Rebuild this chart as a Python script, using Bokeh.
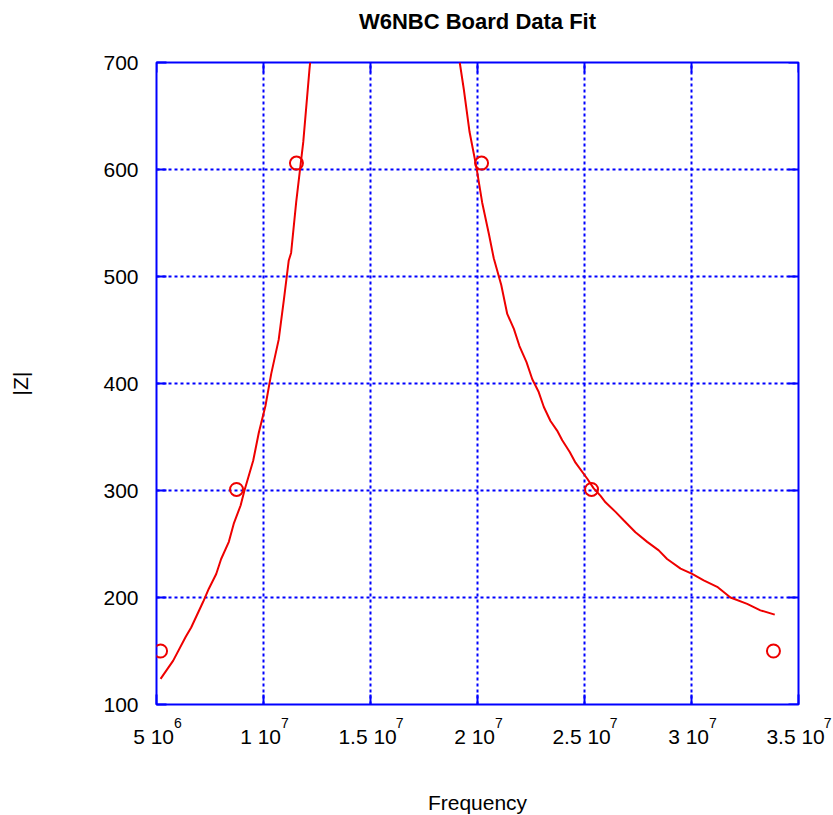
import math
from bokeh.plotting import figure
from bokeh.models import FixedTicker, Range1d, LinearAxis
from bokeh.embed import file_html
from bokeh.resources import INLINE

# measured data points (Frequency in Hz, |Z| in ohms)
data_freq = [5.19e6, 8.74e6, 11.54e6, 20.19e6, 25.33e6, 33.83e6]
data_z = [150, 301, 606, 606, 301, 150]

# fitted curve, low-frequency branch
fit_lo_freq = [5.19e6, 5.78e6, 6.36e6, 6.62e6, 7.18e6, 7.44e6, 7.79e6, 8.02e6, 8.38e6,
               8.61e6, 8.93e6, 9.11e6, 9.52e6, 9.78e6, 10.09e6, 10.36e6, 10.71e6,
               10.95e6, 11.18e6, 11.29e6, 11.53e6, 11.86e6, 12.15e6, 12.18e6]
fit_lo_z = [124, 141, 163, 172, 196, 208, 222, 236, 252, 269, 286, 300, 328, 354,
            379, 409, 441, 478, 515, 522, 570, 626, 694, 700]

# fitted curve, high-frequency branch
fit_hi_freq = [19.17e6, 19.36e6, 19.63e6, 19.95e6, 20.22e6, 20.53e6, 20.76e6, 21.11e6,
               21.39e6, 21.70e6, 21.96e6, 22.29e6, 22.56e6, 22.86e6, 23.10e6, 23.41e6,
               23.72e6, 23.96e6, 24.31e6, 24.58e6, 25.13e6, 25.43e6, 25.75e6, 25.98e6,
               26.45e6, 26.84e6, 27.38e6, 27.93e6, 28.47e6, 28.86e6, 29.49e6, 30.03e6,
               30.57e6, 31.20e6, 31.82e6, 32.60e6, 33.22e6, 33.89e6]
fit_hi_z = [700, 675, 635, 602, 569, 540, 517, 492, 465, 451, 435, 420, 404, 392, 378,
            365, 356, 347, 336, 326, 311, 302, 295, 289, 280, 272, 261, 252, 244, 236,
            227, 222, 216, 210, 200, 194, 188, 184]

x_min, x_max = 5e6, 3.5e7
y_min, y_max = 100, 700
x_ticks = [5000000, 10000000, 15000000, 20000000, 25000000, 30000000, 35000000]
x_tick_mantissa = ["5 10", "1 10", "1.5 10", "2 10", "2.5 10", "3 10", "3.5 10"]
x_tick_exponent = ["6", "7", "7", "7", "7", "7", "7"]
y_ticks = [100, 200, 300, 400, 500, 600, 700]

TITLE = "W6NBC Board Data Fit"
FONT = "Liberation Sans"
BLUE = "#0000FF"
RED = "#EE0000"
TICK_PX = 21
EXP_PX = 14
NBSP = "\u00a0"

p = figure(frame_width=642, frame_height=642, output_backend="svg",
           toolbar_location=None,
           x_range=Range1d(x_min, x_max), y_range=Range1d(y_min, y_max),
           min_border_left=156, min_border_right=35, min_border_top=62,
           min_border_bottom=108)

p.outline_line_color = BLUE
p.outline_line_width = 2
p.outline_line_alpha = 1

for g in (p.xgrid[0], p.ygrid[0]):
    g.grid_line_color = BLUE
    g.grid_line_dash = "3 3"
    g.grid_line_width = 2
    g.grid_line_alpha = 1
p.xgrid[0].ticker = FixedTicker(ticks=x_ticks)
p.ygrid[0].ticker = FixedTicker(ticks=y_ticks)

# default bottom axis (grab before any other x axis is added)
xe = p.below[0]
ya = p.left[0]

# approximate Arial advance widths (em) for lining up mantissa and exponent
ADV = {".": 0.278, " ": 0.278, NBSP: 0.278}
def text_w(s, px):
    return sum(ADV.get(c, 0.556) for c in s) * px

man_labels = {}
exp_labels = {}
for xv, man, ex in zip(x_ticks, x_tick_mantissa, x_tick_exponent):
    wm = text_w(man, TICK_PX)
    wp = text_w(NBSP, TICK_PX)
    we = text_w(ex, EXP_PX)
    n = round((wm - wp + we - 1) / text_w(NBSP, EXP_PX))
    man_labels[xv] = man + NBSP
    exp_labels[xv] = NBSP * n + ex

# inner x axis: inward ticks + raised exponents
xe.ticker = FixedTicker(ticks=x_ticks)
xe.major_label_overrides = exp_labels
xe.axis_line_color = None
xe.major_tick_in = 10
xe.major_tick_out = 0
xe.major_tick_line_color = BLUE
xe.major_tick_line_width = 2
xe.minor_tick_line_color = None
xe.major_label_text_font = FONT
xe.major_label_text_font_size = f"{EXP_PX}px"
xe.major_label_text_color = "#000000"
xe.major_label_standoff = 10

# outer x axis: mantissa labels and axis title
xm = LinearAxis(ticker=FixedTicker(ticks=x_ticks))
xm.major_label_overrides = man_labels
xm.axis_line_color = None
xm.major_tick_in = 0
xm.major_tick_out = 0
xm.major_tick_line_color = None
xm.minor_tick_line_color = None
xm.major_label_text_font = FONT
xm.major_label_text_font_size = f"{TICK_PX}px"
xm.major_label_text_color = "#000000"
xm.major_label_standoff = -9
xm.axis_label = "Frequency"
xm.axis_label_text_font = FONT
xm.axis_label_text_font_size = "21px"
xm.axis_label_text_font_style = "normal"
xm.axis_label_text_color = "#000000"
xm.axis_label_standoff = 40
p.add_layout(xm, "below")

# title drawn as the label of a tick-less top axis
tt = LinearAxis(ticker=FixedTicker(ticks=[]))
tt.axis_line_color = None
tt.major_tick_in = 0
tt.major_tick_out = 0
tt.minor_tick_line_color = None
tt.major_label_standoff = 0
tt.axis_label = TITLE
tt.axis_label_text_font = FONT
tt.axis_label_text_font_size = "22px"
tt.axis_label_text_font_style = "bold"
tt.axis_label_text_color = "#000000"
tt.axis_label_standoff = 29
p.add_layout(tt, "above")

ya.ticker = FixedTicker(ticks=y_ticks)
ya.axis_label = "|Z|"
ya.axis_line_color = None
ya.major_tick_in = 10
ya.major_tick_out = 0
ya.major_tick_line_color = BLUE
ya.major_tick_line_width = 2
ya.minor_tick_line_color = None
ya.major_label_text_font = FONT
ya.major_label_text_font_size = f"{TICK_PX}px"
ya.major_label_text_color = "#000000"
ya.major_label_standoff = 18
ya.axis_label_text_font = FONT
ya.axis_label_text_font_size = "21px"
ya.axis_label_text_font_style = "normal"
ya.axis_label_text_color = "#000000"
ya.axis_label_standoff = 68

# inward tick marks on top and right frame edges
p.scatter(x_ticks, [y_max] * len(x_ticks), marker="dash", size=20,
          angle=math.pi / 2, line_color=BLUE, line_width=2)
p.scatter([x_max] * len(y_ticks), y_ticks, marker="dash", size=20,
          line_color=BLUE, line_width=2)

p.line(fit_lo_freq, fit_lo_z, line_color=RED, line_width=2)
p.line(fit_hi_freq, fit_hi_z, line_color=RED, line_width=2)
p.scatter(data_freq, data_z, marker="circle", size=13, fill_color=None,
          line_color=RED, line_width=2)

open("out.html", "w").write(file_html(p, INLINE))
